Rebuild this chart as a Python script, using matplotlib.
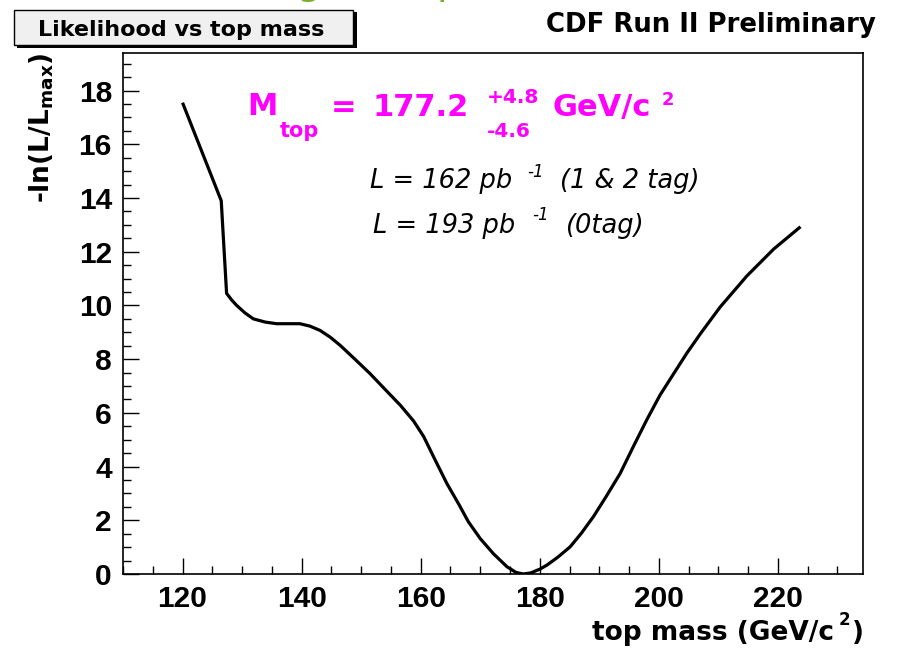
import numpy as np
import matplotlib
matplotlib.use("Agg")
import matplotlib.pyplot as plt
from matplotlib.patches import Rectangle
from matplotlib.ticker import MultipleLocator

# -ln(L/Lmax) scan vs top mass
top_mass = [120, 126.5, 127.4, 128.3, 129.1, 130.5, 131.9, 133.9, 135.8, 139.7,
            141.4, 143.1, 144.8, 146.5, 149.0, 151.5, 154.0, 156.6, 158.8,
            160.5, 162.4, 164.4, 166.4, 168.0, 170.0, 172.2, 174.5, 176.0,
            177.2, 178.5, 180.0, 181.2, 183.0, 185.1, 187.0, 189.0, 191.2,
            193.5, 195.8, 198.0, 200.2, 202.5, 204.7, 207.0, 210.3, 214.8,
            219.3, 223.8]
neg_log_l = [17.55, 13.9, 10.45, 10.19, 10.0, 9.72, 9.5, 9.38, 9.32, 9.32,
             9.23, 9.07, 8.82, 8.51, 7.99, 7.46, 6.88, 6.28, 5.7,
             5.12, 4.26, 3.37, 2.6, 1.95, 1.32, 0.76, 0.27, 0.06,
             0.0, 0.04, 0.18, 0.33, 0.62, 1.01, 1.52, 2.13, 2.9,
             3.74, 4.78, 5.75, 6.66, 7.46, 8.22, 8.95, 9.94, 11.1,
             12.1, 12.93]

x_ticks = [120, 140, 160, 180, 200, 220]
y_ticks = [0, 2, 4, 6, 8, 10, 12, 14, 16, 18]

W, H = 901, 650
magenta = "#ff00ff"
txt_font = "DejaVu Sans"

plt.rcParams["font.family"] = ["Liberation Sans", "DejaVu Sans"]
plt.rcParams["font.weight"] = "bold"

fig = plt.figure(figsize=(W / 100, H / 100), dpi=100)
fig.patch.set_facecolor("white")


def px(x, y):
    # figure pixel position -> figure fraction
    return x / W, 1 - y / H


def ftext(x, y, s, **kw):
    fx, fy = px(x, y)
    kw.setdefault("va", "baseline")
    kw.setdefault("family", txt_font)
    return fig.text(fx, fy, s, **kw)


ax = fig.add_axes([123 / W, 1 - 574 / H, (863 - 123) / W, (574 - 53) / H])
ax.plot(top_mass, neg_log_l, color="black", lw=2.3, solid_joinstyle="round",
        solid_capstyle="butt")
ax.set_xlim(110, 234.3)
ax.set_ylim(0, 19.4)

ax.xaxis.set_minor_locator(MultipleLocator(5))
ax.yaxis.set_minor_locator(MultipleLocator(0.5))
ax.set_xticks(x_ticks)
ax.set_yticks(y_ticks)
ax.tick_params(which="both", direction="in", top=False, right=False,
               width=1.0, color="black")
ax.tick_params(which="major", length=11.5, pad=8, labelsize=21.5,
               labelfontfamily="Liberation Sans")
ax.tick_params(which="minor", length=5.8)
for s in ax.spines.values():
    s.set_linewidth(1.2)

# title box
fig.patches.append(Rectangle(px(17, 48), 340 / W, 36 / H, transform=fig.transFigure,
                             facecolor="black", edgecolor="none"))
fig.patches.append(Rectangle(px(14, 45), 339 / W, 35 / H, transform=fig.transFigure,
                             facecolor="#f0f0f0", edgecolor="black", lw=1.0))
ftext(38, 36, "Likelihood vs top mass", weight="bold", size=16)

ftext(876, 32, "CDF Run II Preliminary", weight="bold", size=18.7, ha="right")

# axis titles
fx, fy = px(42, 53)
fig.text(fx, fy, r"-ln(L/L$_{\mathbf{max}}$)", family=txt_font, weight="bold",
         size=19, rotation=90, ha="center", va="top")
ftext(834, 640, "top mass (GeV/c", weight="bold", size=19, ha="right")
ftext(839, 625, "2", weight="bold", size=12)
ftext(864, 640, ")", weight="bold", size=19, ha="right")

# fit result
ftext(247, 115, "M", weight="bold", size=22, color=magenta)
ftext(280, 137, "top", weight="bold", size=15, color=magenta)
ftext(331, 116, "=", weight="bold", size=22, color=magenta)
ftext(372, 116, "177.2", weight="bold", size=22, color=magenta)
ftext(487, 103, "+4.8", weight="bold", size=14.5, color=magenta)
ftext(487, 137, "-4.6", weight="bold", size=14.5, color=magenta)
ftext(553, 116, "GeV/c", weight="bold", size=22, color=magenta)
ftext(662, 105, "2", weight="bold", size=13, color=magenta)

# luminosity lines
ftext(370, 188, "L = 162 pb", weight="normal", style="italic", size=18.5)
ftext(527, 177, "-1", weight="normal", style="italic", size=12)
ftext(560, 188, "(1 & 2 tag)", weight="normal", style="italic", size=18.5)
ftext(373, 233, "L = 193 pb", weight="normal", style="italic", size=18.5)
ftext(532, 220, "-1", weight="normal", style="italic", size=12)
ftext(565, 233, "(0tag)", weight="normal", style="italic", size=18.5)

# descenders of a slide heading cut off at the top edge
ftext(297, -6.5, "g", weight="normal", size=28, color="#77b02a")
ftext(437, -6.5, "p", weight="normal", size=28, color="#77b02a")

fig.savefig("out.png", dpi=100)
